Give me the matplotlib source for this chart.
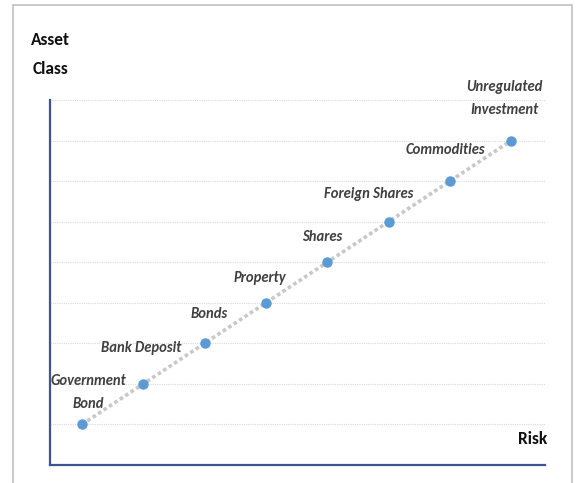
import matplotlib.pyplot as plt
from matplotlib import font_manager
from matplotlib.patches import Rectangle

# Data
asset_classes = ['Government\nBond', 'Bank Deposit', 'Bonds', 'Property', 'Shares',
                 'Foreign Shares', 'Commodities', 'Unregulated\nInvestment']
risk = [1, 2, 3, 4, 5, 6, 7, 8]
level = [1, 2, 3, 4, 5, 6, 7, 8]
# label offsets from each point, in pixels
label_dx = [6, -2, 5, -6, -5, -20, -5, -7]
label_dy = [32, 36, 29, 25, 25, 28, 31, 42]


def pick_font(prefs):
    """First preferred family that has an italic face installed."""
    ents = font_manager.fontManager.ttflist
    for fam in prefs:
        if any(f.name == fam and f.style == 'italic' for f in ents):
            return fam
    return 'Liberation Sans'


NARROW = pick_font(['Carlito', 'Asap Condensed', 'Archivo Narrow', 'Barlow Semi Condensed'])
FONT = [NARROW, 'DejaVu Sans']

fig = plt.figure(figsize=(5.79, 4.83), dpi=100)
W, H = 579, 483

# light frame round the picture
fig.patches.append(Rectangle((13 / W, -0.01), (572 - 13) / W, (483 - 5) / H + 0.01,
                             transform=fig.transFigure, fill=False,
                             edgecolor='#c0c0c0', linewidth=1.2))

ax = fig.add_axes([50 / W, (483 - 465) / H, (545 - 50) / W, (465 - 100) / H])
ax.set_xlim(0.48, 8.55)
ax.set_ylim(0, 9)

for y in range(1, 10):
    ax.axhline(y, color='#dadada', linewidth=0.8, linestyle=(0, (1, 1)), zorder=0)

ax.plot(risk, level, color='#c8c8c8', linewidth=2.6, linestyle=(0, (1, 0.8)), zorder=1)
ax.plot(risk, level, linestyle='none', marker='o', markersize=6.5,
        color='#5b9bd5', zorder=2)

for name, x, y, dx, dy in zip(asset_classes, risk, level, label_dx, label_dy):
    ax.annotate(name, (x, y), xytext=(dx, dy), textcoords='offset pixels',
                ha='center', va='center', fontsize=10.5, fontstyle='italic',
                fontweight='bold', color='#404040', family=FONT, linespacing=1.85)

for side in ['top', 'right']:
    ax.spines[side].set_visible(False)
for side in ['left', 'bottom']:
    ax.spines[side].set_color('#3b5592')
    ax.spines[side].set_linewidth(1.6)
ax.set_xticks([])
ax.set_yticks([])

fig.text(50 / W, 1 - 40 / H, 'Asset', ha='center', va='center', fontsize=12.5,
         fontweight='bold', color='#111111', family=FONT)
fig.text(51 / W, 1 - 69 / H, 'Class', ha='center', va='center', fontsize=12.5,
         fontweight='bold', color='#111111', family=FONT)
fig.text(533 / W, 1 - 439 / H, 'Risk', ha='center', va='center', fontsize=12.5,
         fontweight='bold', color='#111111', family=FONT)

fig.savefig('out.png', dpi=100)
